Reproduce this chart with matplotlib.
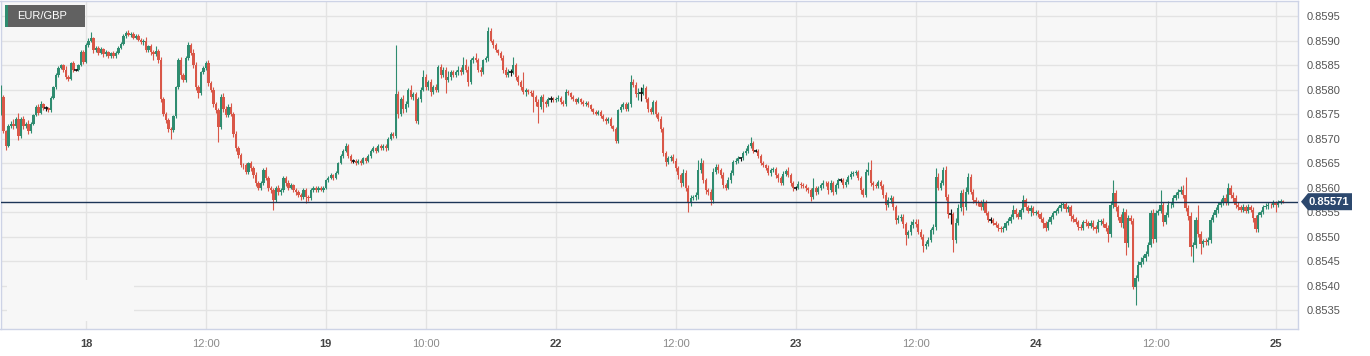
import numpy as np
import pandas as pd
import matplotlib
matplotlib.use("Agg")
import matplotlib.pyplot as plt
from matplotlib.patches import Rectangle, Polygon
from matplotlib.transforms import IdentityTransform

# ---------------- DATA (EUR/GBP, 15-min candles) ----------------
symbol = "EUR/GBP"
first_open_pips = 75.0            # pips above 0.8500
start_time = "2024-07-17 15:30"
end_time = "2024-07-25 00:45"

# closes in pips above 0.8500, per trading day
close_d17 = [78.5, 71.5, 68.5, 72.5, 73, 72.5, 74, 70.5, 74, 72.5,
             73, 71.5, 73, 74.8, 76.4, 75.3, 77, 76.2, 76.2, 75.8,
             78.3, 80.5, 83, 84.4, 85, 84, 82.5, 82.2, 85.4, 84,
             84, 85, 87.7, 85.7]
close_d18 = [89, 90, 90.5, 88, 88.5, 87.5, 88.2, 87.2, 87.6, 86.8,
             87.4, 86.8, 87.5, 88.5, 89.3, 91, 91.6, 91.2, 91.4, 90.6,
             91, 90.2, 89.6, 90, 88, 88.8, 87.6, 87.2, 87.8, 86,
             78, 75, 73.8, 72, 71.8, 74.5, 80.5, 86, 83, 82,
             86.5, 89, 87.5, 85, 80.5, 79.3, 83.5, 84.4,
             85.5, 81.3, 80, 77, 75.8, 72.3, 78.5, 76, 74.8, 76.5,
             75, 71, 68, 66.6, 64.6, 64.5, 63.2, 65, 64, 62.6,
             61, 60, 61, 63.5, 62, 60, 59.5, 57.5, 60, 59,
             59.5, 62, 61, 60, 60.5, 59.5, 59, 58.5, 58, 59.5,
             58, 57.8, 59.5, 60, 59.5, 60, 59.5, 60]
close_d19 = [61.5, 62, 62.5, 62, 63, 65, 66.5, 67.5, 68.5, 66.5,
             65.5, 65.5, 65, 65.5, 65, 66, 65.5, 66.5, 67.5, 68,
             67.5, 68.5, 68, 68.5, 68, 70, 71, 70.5, 79, 75,
             78, 76, 77, 80, 78.5, 79, 73.5, 78, 80, 82.5,
             80.5, 81.5, 79.5, 80.5, 80, 84.5, 83, 84, 82, 82.5,
             83.5, 83, 83.5, 84, 83.5, 85, 84, 81.5, 86, 86.5,
             86, 84, 83.5, 86, 86.5, 92, 90, 89, 88, 87.5,
             86.5, 84, 83, 83.5, 83.5, 85, 82.5, 81.5, 80.5, 79.5,
             79.8, 79.5, 79.3, 78.5, 77.5, 76.5, 78.5, 77.5, 77, 78,
             78, 77.8]
close_d22 = [78, 78.3, 77.5, 77, 79.5, 79.2, 78.5, 78, 77.5, 78,
             77.5, 77, 77.3, 76.8, 76, 75.5, 75, 75.5, 74.5, 74,
             73.5, 74, 72.5, 72, 69.5, 75.8, 76.5, 77, 76, 77,
             81.5, 81, 79, 79.3, 79.3, 80.3, 78, 76, 75.5, 77.4,
             75, 74, 72, 67, 65.2, 66, 66.3, 65.5, 64, 62.5,
             61, 63, 60, 56.8, 57.9, 58, 58.5, 63.6, 65, 61.5,
             59.5, 59, 57.5, 63.2, 64.2, 63.5, 62.5, 60.5, 60, 61.5,
             63, 65.2, 65.5, 66, 66, 67, 67.5, 68.5, 69, 67.5,
             67.5, 66.5, 65, 64.5, 64, 63, 63.5, 63.8, 62.5, 62,
             61, 62.8, 63.3, 62.5, 61, 60]
close_d23 = [60, 60.8, 60.5, 60.3, 59.8, 59.5, 58, 59.9, 59, 59.8,
             60.5, 61, 60.9, 59.5, 61, 59, 60.5, 61.5, 61.5, 60.5,
             61.2, 62.1, 62.8, 63, 63.2, 62, 59.5, 58.5, 63.2, 63.6,
             61, 60.5, 60.3, 61.1, 60.3, 58.5, 56.5, 57.4, 57.8, 56,
             53.4, 53.8, 54, 52.5, 50.3, 50.9, 52.3, 53, 52.5, 51,
             50, 48, 48.5, 49.3, 51.3, 52, 62.1, 60, 61, 63.6,
             58, 54.5, 54.5, 49.3, 52.8, 55.8, 58.9, 56, 59.1, 62.1,
             59.1, 57.4, 57, 56.8, 56, 57, 54.8, 53.4, 53.4, 52.8,
             52.3, 51.7, 51.5, 51.8, 52.8, 53.2, 54, 55.4, 54.5, 54,
             55.4, 57.4, 56, 55.2, 55.8, 54.8]
close_d24 = [55, 54.5, 53.5, 52.8, 51.8, 53, 54, 54.8, 55.3, 55.8,
             56.4, 56.6, 55.6, 56, 54.2, 53.5, 53, 52, 51.8, 53,
             52.8, 52.2, 52.8, 51.9, 51.5, 53, 53.2, 52.5, 51.8, 50.5,
             56.4, 58.9, 56, 54, 52.8, 55, 48.7, 53.8, 53.2, 39.7,
             41.5, 44.2, 44.8, 45.6, 46.5, 48.3, 54.8, 49.5, 54.8, 55.2,
             56.4, 53, 54.4, 56.4, 56.5, 57.9, 58.5, 59.1, 59.5, 58.5,
             55.8, 54.2, 47.9, 48.3, 53.4, 50.5, 48.5, 49, 48.8, 49.3,
             53.4, 54.4, 55.4, 56.5, 57, 57.9, 57, 59.9, 58.5, 57.9,
             56.5, 56, 55.5, 56, 55.3, 56, 55.5, 53.8, 51.5, 54.4,
             55, 56, 56.2, 56.5, 56.4, 56.8]
close_d25 = [56.5, 57, 57.2, 57.1]

# wick lengths beyond the body, in tenths of a pip
upper_d17 = [25, 4, 3, 5, 6, 10, 4, 12, 3, 6,
             4, 8, 3, 3, 4, 6, 6, 3, 4, 3,
             3, 3, 4, 3, 3, 3, 8, 4, 3, 4,
             2, 3, 3, 4]
lower_d17 = [3, 4, 8, 3, 4, 5, 3, 8, 4, 6,
             3, 6, 4, 3, 3, 5, 3, 4, 6, 4,
             3, 3, 3, 4, 3, 5, 4, 5, 3, 4,
             3, 3, 3, 4]
upper_d18 = [4, 5, 13, 3, 4, 3, 5, 3, 4, 3,
             3, 4, 3, 3, 3, 3, 3, 5, 3, 4,
             3, 3, 4, 3, 8, 3, 5, 4, 10, 4,
             6, 4, 5, 4, 3, 3, 3, 5, 6, 4,
             3, 6, 5, 8, 6, 5, 3, 3,
             4, 6, 5, 6, 5, 4, 5, 8, 6, 5,
             8, 5, 6, 5, 4, 5, 6, 3, 5, 4,
             5, 4, 4, 5, 6, 4, 4, 5, 4, 5,
             4, 3, 4, 5, 4, 3, 4, 4, 3, 4,
             3, 4, 4, 3, 3, 3, 3, 3]
lower_d18 = [3, 3, 4, 5, 3, 4, 3, 5, 3, 4,
             4, 3, 3, 3, 3, 3, 4, 3, 4, 3,
             3, 4, 3, 6, 4, 3, 5, 12, 4, 5,
             5, 5, 6, 6, 20, 4, 4, 3, 8, 5,
             4, 4, 5, 6, 6, 10, 4, 4,
             4, 5, 6, 5, 6, 30, 4, 6, 5, 4,
             5, 6, 5, 6, 5, 8, 5, 5, 6, 6,
             6, 5, 5, 4, 5, 8, 6, 20, 5, 5,
             5, 4, 6, 5, 4, 4, 5, 5, 5, 4,
             12, 5, 4, 4, 4, 4, 3, 4]
upper_d19 = [3, 3, 4, 3, 3, 3, 4, 3, 5, 4,
             3, 4, 3, 3, 4, 3, 3, 3, 3, 4,
             3, 3, 4, 3, 4, 3, 3, 4, 101, 6,
             4, 8, 6, 4, 10, 5, 4, 5, 6, 15,
             6, 5, 6, 4, 6, 4, 8, 5, 6, 12,
             5, 4, 5, 8, 5, 16, 12, 8, 4, 4,
             10, 4, 6, 3, 4, 8, 5, 4, 4, 3,
             4, 5, 5, 6, 6, 16, 5, 4, 4, 30,
             5, 3, 4, 5, 4, 5, 4, 5, 4, 5,
             6, 4]
lower_d19 = [3, 4, 3, 4, 3, 3, 3, 4, 3, 4,
             4, 5, 4, 3, 4, 3, 4, 3, 4, 3,
             4, 3, 4, 4, 5, 4, 3, 4, 4, 8,
             5, 8, 5, 6, 5, 6, 4, 5, 6, 4,
             6, 5, 8, 5, 6, 5, 6, 5, 27, 5,
             6, 5, 4, 5, 6, 4, 5, 8, 4, 5,
             4, 5, 8, 4, 4, 6, 4, 5, 4, 5,
             4, 6, 5, 5, 8, 4, 6, 5, 6, 5,
             8, 5, 6, 30, 8, 33, 4, 20, 6, 4,
             5, 4]
upper_d22 = [4, 5, 3, 4, 6, 5, 3, 4, 3, 4,
             3, 3, 4, 3, 3, 3, 4, 3, 3, 4,
             3, 4, 3, 3, 3, 3, 5, 4, 5, 5,
             15, 6, 5, 10, 12, 8, 4, 4, 5, 4,
             5, 4, 5, 4, 5, 5, 4, 6, 5, 4,
             5, 8, 5, 6, 6, 5, 6, 20, 10, 6,
             4, 5, 6, 8, 5, 5, 4, 6, 4, 6,
             5, 5, 6, 4, 3, 4, 5, 4, 13, 4,
             4, 3, 4, 4, 3, 5, 4, 3, 3, 4,
             3, 5, 4, 8, 4, 3]
lower_d22 = [4, 3, 5, 4, 3, 4, 4, 3, 4, 3,
             4, 3, 3, 4, 3, 4, 3, 3, 4, 4,
             5, 3, 4, 4, 5, 4, 3, 5, 4, 4,
             5, 5, 6, 12, 16, 5, 6, 5, 5, 4,
             6, 5, 6, 6, 8, 5, 6, 5, 6, 8,
             8, 6, 8, 18, 6, 5, 6, 8, 6, 5,
             8, 5, 10, 6, 5, 6, 5, 6, 5, 4,
             5, 4, 5, 4, 5, 4, 3, 4, 4, 5,
             3, 5, 4, 4, 5, 4, 6, 4, 5, 8,
             5, 4, 4, 4, 6, 8]
upper_d23 = [4, 5, 4, 5, 4, 4, 3, 20, 4, 5,
             4, 5, 4, 5, 6, 4, 5, 4, 5, 4,
             5, 4, 5, 4, 4, 4, 4, 5, 5, 16,
             20, 4, 5, 5, 4, 4, 5, 6, 6, 5,
             5, 6, 5, 6, 5, 5, 8, 5, 6, 10,
             5, 5, 6, 5, 5, 6, 19, 8, 5, 6,
             8, 6, 12, 5, 10, 8, 6, 8, 10, 9,
             6, 5, 6, 5, 6, 6, 5, 4, 6, 4,
             4, 5, 4, 4, 4, 5, 5, 10, 4, 5,
             5, 10, 5, 5, 6, 4]
lower_d23 = [5, 4, 5, 4, 5, 6, 8, 4, 5, 4,
             4, 5, 5, 8, 4, 6, 4, 5, 4, 5,
             4, 5, 4, 4, 4, 5, 8, 5, 5, 6,
             6, 10, 5, 4, 6, 6, 10, 5, 6, 6,
             8, 6, 6, 8, 20, 6, 5, 6, 6, 5,
             6, 12, 6, 5, 5, 8, 6, 5, 6, 5,
             6, 8, 20, 25, 6, 5, 5, 16, 6, 5,
             5, 6, 5, 6, 5, 6, 5, 5, 6, 4,
             4, 5, 5, 5, 4, 4, 5, 5, 6, 5,
             5, 5, 6, 5, 10, 5]
upper_d24 = [4, 5, 4, 5, 4, 5, 4, 5, 4, 5,
             6, 5, 4, 5, 5, 4, 5, 4, 5, 4,
             5, 4, 6, 5, 4, 5, 4, 5, 4, 5,
             8, 26, 6, 5, 6, 8, 6, 5, 6, 5,
             6, 8, 10, 6, 5, 6, 6, 8, 6, 5,
             31, 6, 5, 8, 6, 5, 6, 5, 8, 10,
             36, 6, 8, 6, 6, 30, 6, 5, 6, 6,
             6, 5, 6, 5, 6, 6, 8, 10, 6, 5,
             5, 6, 5, 6, 5, 6, 5, 5, 6, 5,
             5, 4, 6, 5, 4, 6]
lower_d24 = [5, 6, 5, 10, 6, 5, 4, 5, 4, 5,
             5, 6, 5, 5, 10, 6, 5, 6, 5, 5,
             6, 5, 5, 6, 8, 5, 6, 5, 6, 16,
             6, 6, 8, 6, 8, 10, 25, 8, 6, 5,
             37, 6, 5, 5, 6, 5, 5, 8, 6, 5,
             5, 8, 5, 5, 6, 5, 5, 6, 5, 6,
             6, 8, 18, 31, 6, 6, 20, 6, 6, 6,
             6, 5, 5, 6, 5, 6, 5, 5, 6, 8,
             6, 5, 6, 5, 6, 5, 6, 8, 6, 5,
             5, 5, 4, 6, 5, 4]
upper_d25 = [4, 5, 4, 3]
lower_d25 = [16, 4, 4, 3]

y_tick_values = [0.8535, 0.8540, 0.8545, 0.8550, 0.8555, 0.8560,
                 0.8565, 0.8570, 0.8575, 0.8580, 0.8585, 0.8590, 0.8595]
x_tick_times = ["2024-07-18 00:00", "2024-07-18 12:00", "2024-07-19 00:00",
                "2024-07-19 10:00", "2024-07-22 00:00", "2024-07-22 12:00",
                "2024-07-23 00:00", "2024-07-23 12:00", "2024-07-24 00:00",
                "2024-07-24 12:00", "2024-07-25 00:00"]
x_tick_labels = ["18", "12:00", "19", "10:00", "22", "12:00",
                 "23", "12:00", "24", "12:00", "25"]

# ---------------- BUILD ----------------
close_pips = np.array(close_d17 + close_d18 + close_d19 + close_d22 +
                      close_d23 + close_d24 + close_d25, dtype=float)
upper = np.array(upper_d17 + upper_d18 + upper_d19 + upper_d22 +
                 upper_d23 + upper_d24 + upper_d25, dtype=float)
lower = np.array(lower_d17 + lower_d18 + lower_d19 + lower_d22 +
                 lower_d23 + lower_d24 + lower_d25, dtype=float)

close = 0.85 + close_pips / 10000.0
opn = np.r_[0.85 + first_open_pips / 10000.0, close[:-1]]
body_top = np.maximum(opn, close)
body_bot = np.minimum(opn, close)
high = body_top + upper / 100000.0
low = body_bot - lower / 100000.0

times = pd.date_range(start_time, end_time, freq="15min")
weekend = (times >= pd.Timestamp("2024-07-19 23:00")) & (times < pd.Timestamp("2024-07-22 00:00"))
times = times[~weekend][:len(close)]
idx = np.arange(len(close))

UP, DOWN, DOJI = "#2f8c70", "#d95748", "#111111"
is_doji = np.isclose(opn, close)
colors = np.where(is_doji, DOJI, np.where(close > opn, UP, DOWN))

W, H = 1370, 356
plt.rcParams["font.family"] = ["Liberation Sans", "DejaVu Sans"]
fig = plt.figure(figsize=(W / 100, H / 100), dpi=100)
fig.patch.set_facecolor("white")
ax = fig.add_axes([0.5 / W, 27 / H, 1297.5 / W, 328 / H])
ax.set_facecolor("#f7f7f7")

ymin = 0.8595 - (329 - 16) / 49000.0
ymax = 0.8595 + 15 / 49000.0
ax.set_ylim(ymin, ymax)
ax.set_xlim(-0.2, 519.0)

# grid
ax.set_axisbelow(True)
ax.grid(True, color="#e3e3e3", lw=1.0)
# blank watermark area
ax.add_patch(Rectangle((2.6, 0.85328), 50.5, 0.00083, facecolor="#f7f7f7",
                       edgecolor="none", zorder=1))

# candles
ax.vlines(idx, low, high, colors=colors, lw=0.8, zorder=3)
heights = np.where(is_doji, 0.0, body_top - body_bot)
ax.bar(idx[~is_doji], heights[~is_doji], bottom=body_bot[~is_doji], width=0.9,
       color=colors[~is_doji], linewidth=0, zorder=4)
ax.hlines(close[is_doji], idx[is_doji] - 0.7, idx[is_doji] + 0.7, colors=DOJI,
          lw=1.2, zorder=4)

# last price line
last = close[-1]
ax.axhline(last, color="#1c3557", lw=1.0, zorder=5)

# axes styling
for s in ax.spines.values():
    s.set_color("#cdd3e6")
    s.set_linewidth(1.0)
ax.yaxis.tick_right()
ax.set_yticks(y_tick_values)
ax.set_yticklabels([f"{v:.4f}" for v in y_tick_values])
ax.tick_params(axis="y", length=0, pad=6.5, labelsize=8, labelcolor="#555555")

tick_pos = [int(np.searchsorted(times.values, np.datetime64(pd.Timestamp(t)))) for t in x_tick_times]
ax.set_xticks(tick_pos)
ax.set_xticklabels(x_tick_labels)
ax.tick_params(axis="x", length=0, pad=7, labelsize=8)
for lbl in ax.get_xticklabels():
    if ":" in lbl.get_text():
        lbl.set_color("#8a8a8a")
    else:
        lbl.set_color("#444444")
        lbl.set_fontweight("bold")

# symbol badge (top-left)
fig.add_artist(Rectangle((5, H - 27), 80, 22, transform=IdentityTransform(),
                         facecolor="#616161", edgecolor="none", zorder=10))
fig.add_artist(Rectangle((5, H - 27), 2.5, 22, transform=IdentityTransform(),
                         facecolor=UP, edgecolor="none", zorder=11))
fig.text(17 / W, (H - 16) / H, symbol, color="white", fontsize=8,
         ha="left", va="center", zorder=12)

# last price tag
yd = ax.transData.transform((0, last))[1]
tag = Polygon([(1301, yd), (1308, yd + 8.5), (1352, yd + 8.5),
               (1352, yd - 8.5), (1308, yd - 8.5)], closed=True,
              transform=IdentityTransform(), facecolor="#2c486e",
              edgecolor="none", zorder=20)
fig.add_artist(tag)
fig.text(1328.5 / W, yd / H, f"{last:.5f}", color="white", fontsize=8,
         fontweight="bold", ha="center", va="center", zorder=21)

fig.savefig("out.png", dpi=100, facecolor="white")
